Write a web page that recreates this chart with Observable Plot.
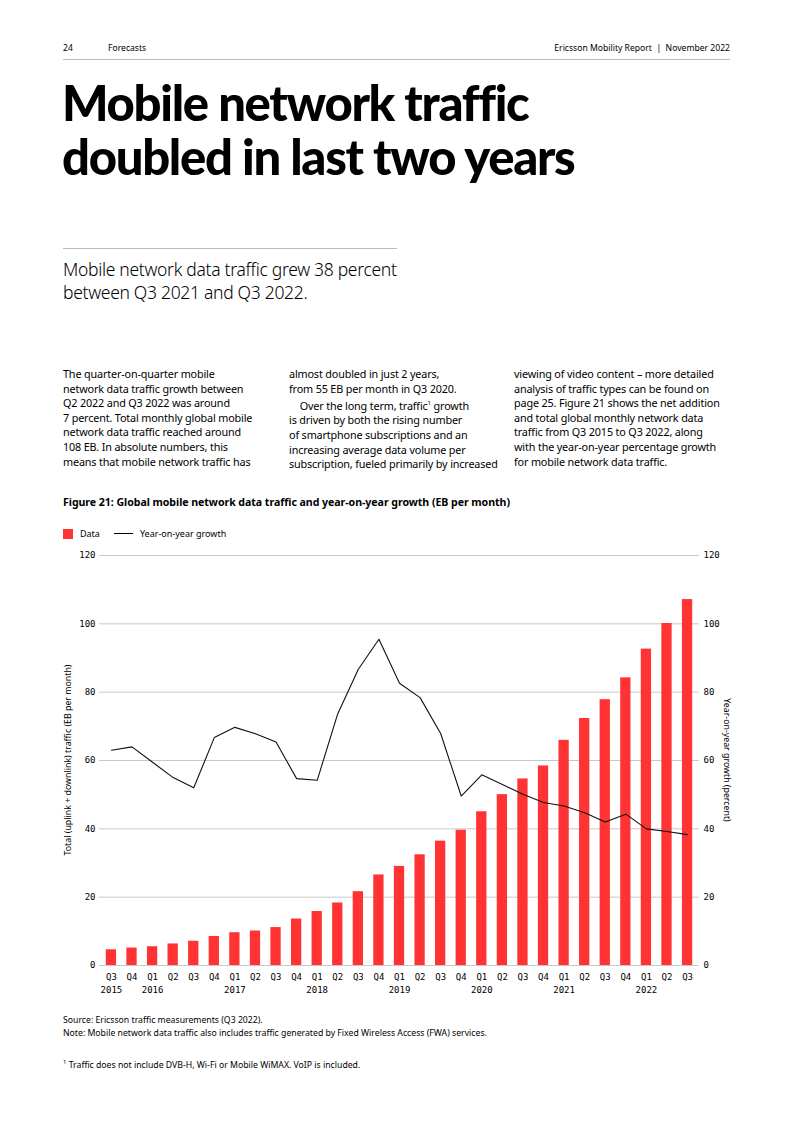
<!DOCTYPE html>
<html>
<head>
<meta charset="utf-8">
<script src="https://cdn.jsdelivr.net/npm/d3@7"></script>
<script src="https://cdn.jsdelivr.net/npm/@observablehq/plot@0.6"></script>
<style>
  html, body { margin: 0; padding: 0; background: #fff; }
  body { width: 793px; height: 1122px; position: relative; font-family: "Noto Sans", Lato, sans-serif; color: #000; overflow: hidden; }
  .abs { position: absolute; }
  .hdr { font-size: 8.6px; top: 42px; }
  .rule { position: absolute; height: 1px; background: #bbb; }
  .title { left: 62px; top: 75px; font-family: Lato, sans-serif; font-weight: 900; font-size: 49px; line-height: 54px; letter-spacing: -1.3px; }
  .sub { left: 63px; top: 258px; font-family: "Noto Sans", sans-serif; font-weight: 300; font-size: 17.5px; line-height: 23px; letter-spacing: -0.3px; }
  .col { top: 367px; font-size: 10.8px; line-height: 14.6px; letter-spacing: -0.15px; white-space: nowrap; }
  .fig { left: 63px; top: 495px; font-size: 10.6px; font-weight: 700; letter-spacing: -0.05px; }
  .legend { left: 63px; top: 527px; font-size: 9px; display: flex; align-items: center; }
  .note { left: 63px; font-size: 8.7px; }
  #chart { position: absolute; left: 0; top: 540px; }
  .ylab { position: absolute; font-size: 8.8px; white-space: nowrap; }
</style>
</head>
<body>
<div class="abs hdr" style="left:63px">24</div>
<div class="abs hdr" style="left:108px">Forecasts</div>
<div class="abs hdr" style="right:63px">Ericsson Mobility Report&nbsp;&nbsp;|&nbsp;&nbsp;November 2022</div>
<div class="rule" style="left:63px; width:667px; top:59px;"></div>

<div class="abs title">Mobile network traffic<br>doubled in last two years</div>

<div class="rule" style="left:63px; width:334px; top:248px;"></div>
<div class="abs sub">Mobile network data traffic grew 38 percent<br>between Q3 2021 and Q3 2022.</div>

<div class="abs col" style="left:63px">The quarter-on-quarter mobile<br>network data traffic growth between<br>Q2 2022 and Q3 2022 was around<br>7 percent. Total monthly global mobile<br>network data traffic reached around<br>108 EB. In absolute numbers, this<br>means that mobile network traffic has</div>
<div class="abs col" style="left:289px">almost doubled in just 2 years,<br>from 55 EB per month in Q3 2020.<br>&nbsp;&nbsp;&nbsp;&nbsp;Over the long term, traffic<sup style="font-size:6px">1</sup> growth<br>is driven by both the rising number<br>of smartphone subscriptions and an<br>increasing average data volume per<br>subscription, fueled primarily by increased</div>
<div class="abs col" style="left:514px">viewing of video content – more detailed<br>analysis of traffic types can be found on<br>page 25. Figure 21 shows the net addition<br>and total global monthly network data<br>traffic from Q3 2015 to Q3 2022, along<br>with the year-on-year percentage growth<br>for mobile network data traffic.</div>

<div class="abs fig">Figure 21: Global mobile network data traffic and year-on-year growth (EB per month)</div>

<div class="abs legend">
  <span style="display:inline-block;width:10px;height:10px;background:#ff3333;"></span>
  <span style="margin-left:7px;">Data</span>
  <span style="display:inline-block;width:19px;height:1.2px;background:#000;margin-left:14px;"></span>
  <span style="margin-left:7px;">Year-on-year growth</span>
</div>

<div id="chart"></div>
<div class="ylab" style="left:68px; top:760px; transform: translate(-50%,-50%) rotate(-90deg);">Total (uplink + downlink) traffic (EB per month)</div>
<div class="ylab" style="left:727px; top:760px; transform: translate(-50%,-50%) rotate(90deg);">Year-on-year growth (percent)</div>

<div class="abs note" style="top:1014px;">Source: Ericsson traffic measurements (Q3 2022).</div>
<div class="abs note" style="top:1027px;">Note: Mobile network data traffic also includes traffic generated by Fixed Wireless Access (FWA) services.</div>
<div class="abs note" style="top:1058px;"><sup style="font-size:6px">1</sup> Traffic does not include DVB-H, Wi-Fi or Mobile WiMAX. VoIP is included.</div>

<script>
// Data
const quarters = ["Q3","Q4","Q1","Q2","Q3","Q4","Q1","Q2","Q3","Q4","Q1","Q2","Q3","Q4","Q1","Q2","Q3","Q4","Q1","Q2","Q3","Q4","Q1","Q2","Q3","Q4","Q1","Q2","Q3"];
const years    = ["2015","","2016","","","","2017","","","","2018","","","","2019","","","","2020","","","","2021","","","","2022","",""];
const traffic  = [4.6,5.1,5.5,6.3,7.1,8.5,9.6,10.1,11.1,13.6,15.8,18.3,21.6,26.5,29.0,32.4,36.4,39.6,45.0,50.0,54.6,58.4,65.9,72.3,77.8,84.2,92.6,100.1,107.1];
const growth   = [63.0,64.0,59.5,55.0,52.0,66.7,69.7,67.8,65.4,54.7,54.2,73.7,86.7,95.5,82.6,78.4,67.9,49.6,55.8,53.0,50.1,47.7,46.7,44.7,42.0,44.3,40.0,39.2,38.3];
const yTicks   = [0,20,40,60,80,100,120];

const rows = quarters.map((q, i) => ({i, q, year: years[i], traffic: traffic[i], growth: growth[i]}));
const idx = rows.map(d => d.i);

const chart = Plot.plot({
  width: 793,
  height: 470,
  marginLeft: 99,
  marginRight: 94,
  marginTop: 15,
  marginBottom: 45,
  style: {fontFamily: "'DejaVu Sans Mono', monospace", fontSize: "9px", color: "#000", background: "transparent"},
  x: {type: "band", domain: idx, paddingInner: 0.5, paddingOuter: 0.33, align: 0.5, round: false},
  y: {domain: [0, 120]},
  marks: [
    Plot.ruleY(yTicks, {stroke: "#c8c8c8", strokeWidth: 1}),
    Plot.barY(rows, {x: "i", y: "traffic", fill: "#ff3333"}),
    Plot.line(rows, {x: "i", y: "growth", stroke: "#111", strokeWidth: 1.1}),
    Plot.axisY(yTicks, {anchor: "left", tickSize: 0, tickPadding: 4, label: null, tickFormat: d => String(d), style: {letterSpacing: "-0.8px"}}),
    Plot.axisY(yTicks, {anchor: "right", tickSize: 0, tickPadding: 4, label: null, tickFormat: d => String(d), style: {letterSpacing: "-0.8px"}}),
    Plot.axisX(idx, {anchor: "bottom", tickSize: 0, tickPadding: 5, label: null,
      tickFormat: i => quarters[i] + "\n" + years[i], lineHeight: 1.45, style: {letterSpacing: "-0.8px"}})
  ]
});
document.getElementById("chart").appendChild(chart);
</script>
</body>
</html>
